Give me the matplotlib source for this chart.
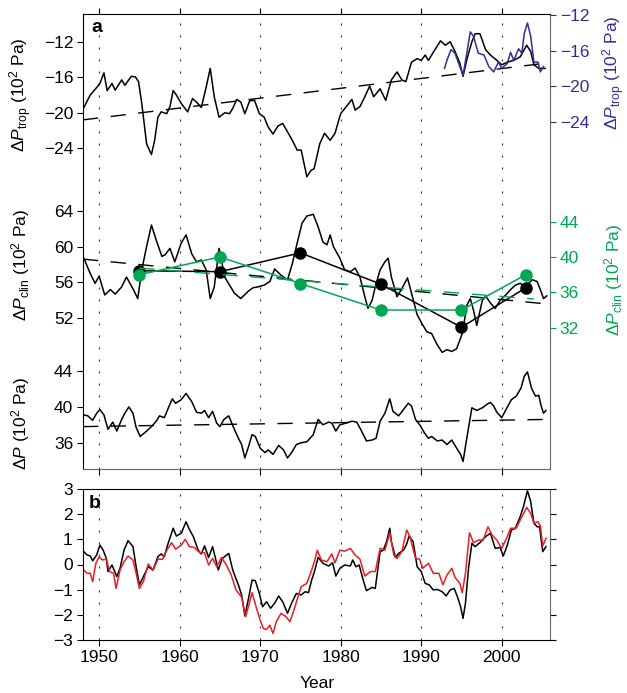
import matplotlib
matplotlib.use('Agg')
import matplotlib.pyplot as plt

plt.rcParams['font.family'] = ['Liberation Sans', 'DejaVu Sans']
plt.rcParams['mathtext.fontset'] = 'custom'
plt.rcParams['mathtext.rm'] = 'Liberation Sans'
plt.rcParams['mathtext.it'] = 'Liberation Sans:italic'
plt.rcParams['mathtext.bf'] = 'Liberation Sans:bold'

# ---------------- data ----------------
decades = [1950, 1960, 1970, 1980, 1990, 2000]
decade_labels = ['1950', '1960', '1970', '1980', '1990', '2000']

trop_years = [1948.05, 1948.9, 1949.7, 1950.1, 1950.6, 1951.0, 1951.6, 1952.0, 1952.8, 1953.2,
              1954.0, 1954.5, 1954.9, 1955.3, 1955.9, 1956.5, 1956.9, 1957.3, 1957.7, 1958.4,
              1958.8, 1959.2, 1959.6, 1960.2, 1961.0, 1961.6, 1962.1, 1962.7, 1963.3, 1963.8,
              1964.3, 1964.9, 1965.6, 1966.2, 1966.6, 1967.1, 1967.6, 1968.1, 1968.7, 1969.3,
              1969.9, 1970.5, 1971.0, 1971.6, 1972.2, 1972.8, 1973.4, 1974.0, 1974.6, 1975.1,
              1975.8, 1976.3, 1976.7, 1977.4, 1978.0, 1978.7, 1979.3, 1980.0, 1980.7, 1981.4,
              1981.8, 1982.4, 1983.0, 1983.6, 1984.1, 1984.9, 1985.6, 1986.3, 1987.0, 1987.6,
              1988.1, 1988.8, 1989.5, 1990.0, 1990.5, 1990.9, 1991.5, 1992.4, 1993.0, 1993.6,
              1994.2, 1994.8, 1995.2, 1995.7, 1996.3, 1996.7, 1997.3, 1998.0, 1998.6, 1999.4,
              2000.0, 2000.7, 2001.5, 2002.3, 2003.1, 2003.6, 2004.0, 2004.6, 2005.4]
trop_vals = [-19.5, -18.0, -17.15, -16.7, -15.5, -17.5, -16.7, -17.45, -16.3, -16.9,
             -15.9, -15.95, -16.5, -18.95, -23.5, -24.7, -23.1, -20.5, -19.9, -20.1,
             -19.3, -17.5, -18.0, -18.95, -19.9, -18.4, -18.8, -19.4, -17.1, -15.0,
             -18.2, -20.5, -20.0, -20.1, -19.5, -18.5, -18.8, -20.1, -18.65, -18.6,
             -20.1, -20.5, -21.6, -22.4, -21.5, -21.2, -22.15, -23.1, -24.2, -24.2,
             -27.2, -26.5, -26.3, -23.5, -22.3, -23.1, -22.3, -20.1, -19.3, -18.5,
             -19.7, -19.3, -18.2, -17.0, -18.2, -17.3, -18.6, -16.3, -15.4, -16.3,
             -16.5, -14.3, -13.9, -14.1, -13.5, -14.1, -13.2, -11.9, -12.4, -12.0,
             -13.1, -14.4, -15.9, -13.9, -12.0, -11.1, -11.1, -12.9, -13.5, -14.1,
             -14.6, -14.3, -14.1, -13.7, -12.4, -13.1, -14.6, -15.0, -15.0]
trop_trend_years = [1948.0, 2005.6]
trop_trend_vals = [-20.8, -14.4]

trop_blue_years = [1992.9, 1993.2, 1993.7, 1994.2, 1994.8, 1995.2, 1995.7, 1996.1, 1996.5, 1997.1,
                   1997.8, 1998.4, 1999.0, 1999.6, 2000.0, 2000.7, 2001.1, 2001.5, 2002.1, 2002.5,
                   2002.8, 2003.2, 2003.6, 2004.0, 2004.5, 2004.8, 2005.2]
trop_blue_vals = [-18.0, -17.1, -15.9, -16.3, -17.8, -18.8, -16.1, -13.9, -14.4, -16.3,
                  -16.5, -17.8, -18.4, -17.3, -18.0, -17.45, -16.2, -17.1, -15.8, -16.3,
                  -14.1, -12.9, -14.4, -17.3, -17.3, -18.4, -17.8]

clin_years = [1948.1, 1948.9, 1949.5, 1950.0, 1950.7, 1951.4, 1952.0, 1952.8, 1953.4, 1954.2,
              1954.8, 1955.3, 1955.9, 1956.5, 1957.1, 1957.8, 1958.2, 1958.8, 1959.4, 1960.2,
              1960.8, 1961.5, 1962.1, 1962.7, 1963.3, 1963.8, 1964.3, 1964.9, 1965.6, 1966.2,
              1966.8, 1967.6, 1968.5, 1969.1, 1969.7, 1970.5, 1971.2, 1971.8, 1972.6, 1973.4,
              1974.0, 1974.6, 1975.2, 1975.8, 1976.6, 1977.2, 1977.8, 1978.3, 1978.7, 1979.1,
              1979.9, 1980.5, 1981.2, 1981.8, 1982.4, 1983.0, 1983.4, 1983.9, 1984.3, 1984.9,
              1985.5, 1985.9, 1986.3, 1987.0, 1987.6, 1988.3, 1988.8, 1989.5, 1990.1, 1990.7,
              1991.3, 1991.9, 1992.6, 1993.2, 1993.8, 1994.4, 1995.1, 1995.7, 1996.1, 1996.5,
              1996.9, 1997.6, 1998.0, 1998.6, 1999.2, 1999.8, 2000.5, 2001.1, 2001.7, 2002.3,
              2002.9, 2003.8, 2004.4, 2004.8, 2005.2, 2005.6]
clin_vals = [58.7, 57.0, 55.9, 56.7, 54.6, 55.2, 54.7, 55.5, 56.6, 55.3,
             54.2, 57.4, 60.0, 62.4, 60.7, 58.9, 59.1, 59.8, 58.3, 60.4,
             61.3, 59.2, 58.3, 58.5, 57.4, 54.2, 55.5, 59.8, 56.6, 55.7,
             54.8, 54.2, 55.0, 55.4, 55.5, 55.7, 56.1, 57.5, 56.8, 56.3,
             58.1, 60.4, 62.6, 63.4, 63.6, 62.2, 60.5, 60.2, 61.3, 60.0,
             58.7, 57.4, 57.2, 57.6, 56.6, 54.4, 53.1, 54.0, 55.5, 57.4,
             58.3, 58.7, 56.6, 54.4, 55.3, 56.5, 54.8, 52.4, 51.4, 50.5,
             50.3, 49.2, 48.2, 48.5, 48.3, 48.6, 50.3, 53.5, 54.2, 52.9,
             51.2, 54.0, 54.5, 53.7, 53.1, 54.0, 54.6, 55.2, 55.7, 55.9,
             55.5, 56.3, 56.1, 55.2, 54.2, 54.5]
clin_trend_years = [1948.0, 2005.6]
clin_trend_vals = [58.6, 53.6]

pentad_years = [1955, 1965, 1975, 1985, 1995, 2003]
clin_black_dots = [57.3, 57.2, 59.3, 55.8, 51.0, 55.4]
clin_green_dots = [38.0, 40.0, 37.0, 34.0, 34.0, 38.0]
green_trend_years = [1955.0, 2004.0]
green_trend_vals = [38.75, 35.25]

dp_years = [1948.1, 1948.6, 1949.2, 1949.7, 1950.1, 1950.6, 1951.1, 1951.7, 1952.2, 1952.8,
            1953.2, 1953.7, 1954.2, 1954.6, 1955.1, 1955.9, 1956.5, 1957.1, 1957.5, 1958.1,
            1958.7, 1959.1, 1959.5, 1960.2, 1960.8, 1961.5, 1962.1, 1962.7, 1963.1, 1963.6,
            1964.1, 1964.6, 1965.0, 1965.5, 1966.1, 1966.7, 1967.3, 1967.7, 1968.1, 1968.5,
            1969.0, 1969.4, 1970.0, 1970.6, 1971.0, 1971.6, 1972.3, 1972.9, 1973.4, 1973.9,
            1974.5, 1975.1, 1975.8, 1976.6, 1977.2, 1977.8, 1978.5, 1978.9, 1979.4, 1979.9,
            1980.7, 1981.4, 1982.0, 1982.6, 1983.2, 1983.9, 1984.4, 1984.9, 1985.5, 1986.1,
            1986.5, 1987.2, 1987.8, 1988.4, 1988.8, 1989.3, 1989.9, 1990.4, 1990.9, 1991.3,
            1992.0, 1992.6, 1993.2, 1993.8, 1994.4, 1994.9, 1995.2, 1995.7, 1996.3, 1996.9,
            1997.6, 1998.2, 1998.6, 1999.0, 1999.4, 2000.0, 2000.6, 2001.2, 2001.8, 2002.4,
            2002.8, 2003.2, 2003.7, 2004.2, 2004.6, 2004.9, 2005.2, 2005.5]
dp_vals = [39.1, 39.0, 38.5, 39.3, 39.7, 39.1, 37.5, 38.3, 37.3, 38.6,
           39.3, 40.0, 39.3, 37.7, 36.7, 37.3, 37.8, 38.4, 39.0, 38.8,
           40.1, 40.9, 40.4, 40.8, 41.5, 40.6, 39.4, 39.3, 39.6, 38.8,
           39.5, 38.2, 37.8, 38.6, 39.0, 37.7, 36.5, 35.8, 34.3, 35.4,
           36.9, 36.7, 35.4, 34.9, 35.2, 34.7, 35.7, 35.2, 34.3, 34.9,
           35.8, 36.0, 36.1, 36.9, 38.6, 38.0, 38.3, 38.2, 37.3, 38.0,
           38.2, 38.4, 38.3, 37.3, 36.2, 36.3, 36.5, 38.4, 39.3, 40.9,
           39.5, 39.0, 39.7, 40.4, 40.1, 38.6, 37.9, 37.1, 36.5, 36.7,
           36.2, 36.3, 35.8, 36.3, 35.4, 34.7, 33.9, 36.7, 39.9, 39.6,
           39.9, 40.3, 40.5, 40.1, 39.4, 38.8, 39.8, 40.8, 41.2, 42.1,
           43.4, 43.9, 42.1, 41.2, 41.3, 40.1, 39.3, 39.6]
dp_trend_years = [1948.0, 2005.6]
dp_trend_vals = [37.8, 38.6]

b_black_years = [1948.1, 1948.5, 1948.9, 1949.2, 1949.7, 1950.1, 1950.5, 1950.9, 1951.1, 1951.6,
                 1952.2, 1952.6, 1953.1, 1953.6, 1954.2, 1954.6, 1955.0, 1955.5, 1956.1, 1956.7,
                 1957.3, 1957.7, 1958.1, 1958.5, 1959.2, 1959.6, 1960.2, 1960.8, 1961.2, 1961.7,
                 1962.3, 1962.7, 1963.1, 1963.6, 1964.1, 1964.8, 1965.3, 1965.7, 1966.1, 1966.6,
                 1967.3, 1967.7, 1968.1, 1968.6, 1969.0, 1969.4, 1969.9, 1970.3, 1970.8, 1971.3,
                 1971.8, 1972.3, 1972.8, 1973.4, 1973.9, 1974.5, 1975.1, 1975.6, 1976.0, 1976.4,
                 1976.8, 1977.2, 1977.8, 1978.5, 1979.0, 1979.4, 1979.9, 1980.5, 1981.2, 1981.5,
                 1981.9, 1982.3, 1982.8, 1983.2, 1983.9, 1984.3, 1984.9, 1985.3, 1985.7, 1986.1,
                 1986.3, 1986.8, 1987.2, 1987.8, 1988.2, 1988.5, 1989.0, 1989.5, 1990.0, 1990.5,
                 1991.0, 1991.5, 1992.0, 1992.6, 1993.1, 1993.6, 1994.1, 1994.5, 1994.9, 1995.2,
                 1995.5, 1995.9, 1996.3, 1996.7, 1997.3, 1998.0, 1998.6, 1999.2, 1999.8, 2000.2,
                 2000.7, 2001.2, 2001.7, 2002.3, 2002.7, 2003.2, 2003.6, 2004.0, 2004.4, 2004.7,
                 2005.1, 2005.5]
b_black_vals = [0.51, 0.38, 0.34, 0.15, 0.38, 0.77, 0.57, 0.24, -0.28, -0.02,
                -0.48, -0.15, 0.57, 0.95, 0.71, -0.09, -0.81, -0.48, -0.09, -0.22,
                0.31, 0.42, 0.31, 0.77, 1.44, 1.13, 1.24, 1.70, 1.40, 1.11,
                0.57, 0.42, 0.74, 0.28, 0.71, -0.22, 0.24, 0.34, 0.44, -0.22,
                -0.81, -1.21, -2.04, -1.28, -0.62, -0.64, -1.15, -1.68, -1.48, -1.74,
                -1.54, -1.25, -1.48, -1.94, -1.54, -1.15, -1.21, -1.08, -1.12, -0.62,
                -0.22, 0.28, 0.05, -0.06, 0.07, -0.46, -0.15, -0.02, -0.06, 0.18,
                -0.09, -0.02, -0.62, -1.04, -0.91, -0.95, 0.51, 0.57, 0.91, 1.44,
                0.91, 0.28, 0.44, 0.57, 0.81, 1.13, 0.91, -0.09, -0.28, -0.75,
                -0.81, -1.01, -0.99, -1.08, -1.25, -1.01, -0.95, -1.28, -1.68, -2.14,
                -1.54, -0.09, 0.84, 0.71, 0.87, 1.11, 1.24, 0.64, 0.68, 0.34,
                0.77, 1.37, 1.44, 1.90, 2.30, 2.93, 2.50, 1.64, 1.50, 1.50,
                0.51, 0.71]

b_red_years = [1948.1, 1948.5, 1948.9, 1949.2, 1949.6, 1950.0, 1950.4, 1950.9, 1951.3, 1951.8,
               1952.1, 1952.6, 1953.1, 1953.6, 1954.2, 1954.6, 1955.0, 1955.5, 1956.1, 1956.7,
               1957.3, 1957.9, 1958.3, 1959.0, 1959.5, 1960.2, 1960.7, 1961.2, 1961.8, 1962.5,
               1963.1, 1963.6, 1964.1, 1964.6, 1965.2, 1965.8, 1966.4, 1967.0, 1967.7, 1968.2,
               1968.6, 1969.0, 1969.5, 1970.0, 1970.4, 1970.8, 1971.2, 1971.6, 1972.0, 1972.6,
               1973.2, 1973.7, 1974.2, 1974.7, 1975.1, 1975.8, 1976.4, 1976.8, 1977.1, 1977.6,
               1978.3, 1978.9, 1979.3, 1979.9, 1980.5, 1981.2, 1981.8, 1982.4, 1983.0, 1983.7,
               1984.3, 1984.9, 1985.5, 1986.1, 1986.6, 1987.0, 1987.6, 1988.2, 1988.6, 1989.3,
               1989.8, 1990.2, 1990.9, 1991.5, 1992.2, 1992.7, 1993.2, 1993.8, 1994.2, 1994.8,
               1995.1, 1995.5, 1996.0, 1996.5, 1997.1, 1997.7, 1998.3, 1998.8, 1999.4, 2000.0,
               2000.6, 2001.1, 2001.8, 2002.3, 2003.1, 2003.6, 2004.0, 2004.5, 2004.8, 2005.1,
               2005.5]
b_red_vals = [-0.22, -0.35, -0.35, -0.68, 0.05, 0.31, 0.18, 0.21, -0.28, -0.35,
              -0.95, -0.22, 0.11, 0.34, 0.18, -0.35, -0.95, -0.68, 0.02, -0.22,
              0.21, 0.21, 0.51, 0.87, 0.61, 0.77, 1.00, 0.71, 0.68, 0.47,
              0.47, -0.02, 0.24, -0.09, 0.28, -0.02, -0.41, -1.01, -1.30, -2.07,
              -1.61, -1.12, -1.68, -2.21, -2.54, -2.58, -2.41, -2.74, -2.27, -1.94,
              -2.07, -2.27, -1.81, -1.28, -0.88, -0.75, -0.22, 0.18, 0.57, 0.18,
              0.11, 0.42, 0.07, 0.57, 0.53, 0.64, 0.38, 0.21, -0.46, -0.28,
              -0.28, 0.64, 0.57, 1.26, 0.38, 0.24, 0.51, 1.37, 1.11, 0.24,
              0.21, -0.15, 0.05, -0.35, -0.35, -0.81, -0.42, -0.15, -0.51, -0.75,
              -1.12, -0.35, 1.26, 0.87, 0.97, 0.97, 1.50, 1.17, 0.97, 0.64,
              1.04, 1.44, 1.44, 1.77, 2.27, 2.03, 1.64, 1.70, 1.53, 0.74,
              1.04]

# ---------------- style ----------------
BLUE = '#2e3192'
GREEN = '#00a651'
RED = '#ed1c24'
FS = 12.5
XLIM = (1948, 2006)

W, H = 627, 693
fig = plt.figure(figsize=(W / 100, H / 100), dpi=100)


def rect(l, t, r, b):
    return [l / W, 1 - b / H, (r - l) / W, (b - t) / H]


ra = rect(83, 14, 550, 469)
rb = rect(83, 489, 550, 640)

dot = (0, (1.8, 9))
dash = (0, (11, 9))
GRID_KW = dict(color='#333333', ls=dot, lw=0.8)

# panel a frame
frame = fig.add_axes(ra)
frame.set_xlim(XLIM)
frame.set_ylim(0, 1)
frame.set_yticks([])
frame.set_xticks(decades)
frame.tick_params(axis='x', direction='out', top=True, bottom=True,
                  labelbottom=False, length=4, width=0.8)
for x in decades:
    frame.axvline(x, **GRID_KW)
for s in ['right', 'bottom']:
    frame.spines[s].set_color('#666666')


def sub(ylim, side, ticks, color):
    ax = fig.add_axes(ra)
    ax.set_xlim(XLIM)
    ax.set_ylim(ylim)
    ax.patch.set_alpha(0)
    for s in ax.spines.values():
        s.set_visible(False)
    ax.xaxis.set_visible(False)
    ax.set_yticks(ticks)
    ax.yaxis.set_ticks_position(side)
    ax.yaxis.set_label_position(side)
    ax.tick_params(axis='y', direction='out', length=4, width=0.8,
                   colors=color, labelsize=FS, pad=3)
    return ax


ax_trop = sub((-60.10, -8.88), 'left', [-24, -20, -16, -12], 'k')
ax_trop.plot(trop_years, trop_vals, color='k', lw=1.1)
ax_trop.plot(trop_trend_years, trop_trend_vals, color='k', lw=1.0, ls=dash)

ax_trop_r = sub((-63.06, -11.89), 'right', [-24, -20, -16, -12], BLUE)
ax_trop_r.plot(trop_blue_years, trop_blue_vals, color=BLUE, lw=1.1)

ax_clin = sub((35.19, 85.94), 'left', [52, 56, 60, 64], 'k')
ax_clin.plot(clin_years, clin_vals, color='k', lw=1.1)
ax_clin.plot(clin_trend_years, clin_trend_vals, color='k', lw=1.0, ls=dash)
ax_clin.plot(pentad_years, clin_black_dots, color='k', lw=1.1, marker='o', ms=8)

ax_clin_r = sub((16.0, 67.51), 'right', [32, 36, 40, 44], GREEN)
ax_clin_r.plot(green_trend_years, green_trend_vals, color=GREEN, lw=1.0, ls=dash)
ax_clin_r.plot(pentad_years, clin_green_dots, color=GREEN, lw=1.1, marker='o', ms=8)

ax_dp = sub((33.07, 83.83), 'left', [36, 40, 44], 'k')
ax_dp.plot(dp_years, dp_vals, color='k', lw=1.1)
ax_dp.plot(dp_trend_years, dp_trend_vals, color='k', lw=1.0, ls=dash)

# panel b
axb = fig.add_axes(rb)
axb.set_xlim(XLIM)
axb.set_ylim(-3, 3)
for x in decades:
    axb.axvline(x, **GRID_KW)
axb.plot(b_black_years, b_black_vals, color='k', lw=1.1)
axb.plot(b_red_years, b_red_vals, color=RED, lw=1.1)
axb.set_xticks(decades)
axb.set_xticklabels(decade_labels)
axb.set_yticks([-3, -2, -1, 0, 1, 2, 3])
axb.tick_params(axis='both', direction='out', length=4, width=0.8, labelsize=FS)
axb.tick_params(axis='y', right=True)
axb.spines['right'].set_color('#666666')

# labels
lab = dict(rotation=90, ha='center', va='center', fontsize=FS)
fig.text(21 / W, 1 - 95 / H, r'$\mathit{\Delta P}_{\mathrm{trop}}$ (10$^{2}$ Pa)', **lab)
fig.text(21 / W, 1 - 265 / H, r'$\mathit{\Delta P}_{\mathrm{clin}}$ (10$^{2}$ Pa)', **lab)
fig.text(21 / W, 1 - 423 / H, r'$\mathit{\Delta P}$ (10$^{2}$ Pa)', **lab)
fig.text(614 / W, 1 - 73 / H, r'$\mathit{\Delta P}_{\mathrm{trop}}$ (10$^{2}$ Pa)', color=BLUE, **lab)
fig.text(614 / W, 1 - 280 / H, r'$\mathit{\Delta P}_{\mathrm{clin}}$ (10$^{2}$ Pa)', color=GREEN, **lab)

fig.text(91 / W, 1 - 28 / H, 'a', fontsize=14, fontweight='bold', va='center', ha='left')
fig.text(89 / W, 1 - 504 / H, 'b', fontsize=14, fontweight='bold', va='center', ha='left')
fig.text(317 / W, 1 - 684 / H, 'Year', fontsize=FS, ha='center', va='center')

fig.savefig('out.png', dpi=100)
